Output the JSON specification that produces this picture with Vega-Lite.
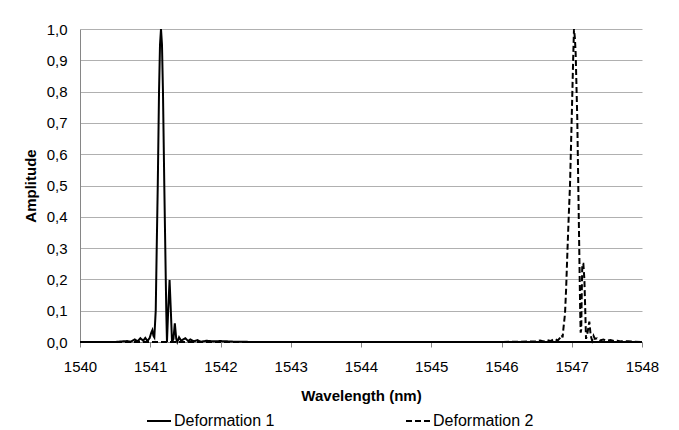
{
  "$schema": "https://vega.github.io/schema/vega-lite/v6.json",
  "autosize": "none",
  "width": 562,
  "height": 313,
  "padding": {"left": 80, "top": 29, "right": 37, "bottom": 88},
  "background": "white",
  "config": {
    "view": {"stroke": null},
    "font": "Liberation Sans"
  },
  "data": {"values": [
      {"s": "Deformation 1", "w": 1540, "a": 0}, {"s": "Deformation 1", "w": 1540.5, "a": 0}, {"s": "Deformation 1", "w": 1540.6, "a": 0.002}, {"s": "Deformation 1", "w": 1540.67, "a": 0.003},
      {"s": "Deformation 1", "w": 1540.72, "a": 0.001}, {"s": "Deformation 1", "w": 1540.78, "a": 0.008}, {"s": "Deformation 1", "w": 1540.82, "a": 0.002}, {"s": "Deformation 1", "w": 1540.86, "a": 0.012},
      {"s": "Deformation 1", "w": 1540.9, "a": 0.004}, {"s": "Deformation 1", "w": 1540.93, "a": 0.013}, {"s": "Deformation 1", "w": 1540.96, "a": 0.003}, {"s": "Deformation 1", "w": 1540.99, "a": 0.012},
      {"s": "Deformation 1", "w": 1541.015, "a": 0.03}, {"s": "Deformation 1", "w": 1541.03, "a": 0.038}, {"s": "Deformation 1", "w": 1541.045, "a": 0.02}, {"s": "Deformation 1", "w": 1541.058, "a": 0.015},
      {"s": "Deformation 1", "w": 1541.078, "a": 0.1}, {"s": "Deformation 1", "w": 1541.092, "a": 0.3}, {"s": "Deformation 1", "w": 1541.107, "a": 0.5}, {"s": "Deformation 1", "w": 1541.125, "a": 0.8},
      {"s": "Deformation 1", "w": 1541.139, "a": 0.95}, {"s": "Deformation 1", "w": 1541.153, "a": 1.0}, {"s": "Deformation 1", "w": 1541.167, "a": 0.95}, {"s": "Deformation 1", "w": 1541.181, "a": 0.8},
      {"s": "Deformation 1", "w": 1541.2, "a": 0.5}, {"s": "Deformation 1", "w": 1541.214, "a": 0.3}, {"s": "Deformation 1", "w": 1541.228, "a": 0.1}, {"s": "Deformation 1", "w": 1541.238, "a": 0.0},
      {"s": "Deformation 1", "w": 1541.255, "a": 0.1}, {"s": "Deformation 1", "w": 1541.275, "a": 0.198}, {"s": "Deformation 1", "w": 1541.293, "a": 0.1}, {"s": "Deformation 1", "w": 1541.31, "a": 0.0},
      {"s": "Deformation 1", "w": 1541.33, "a": 0.01}, {"s": "Deformation 1", "w": 1541.35, "a": 0.06}, {"s": "Deformation 1", "w": 1541.37, "a": 0.01}, {"s": "Deformation 1", "w": 1541.385, "a": 0.0},
      {"s": "Deformation 1", "w": 1541.41, "a": 0.015}, {"s": "Deformation 1", "w": 1541.44, "a": 0.004}, {"s": "Deformation 1", "w": 1541.5, "a": 0.012}, {"s": "Deformation 1", "w": 1541.54, "a": 0.003},
      {"s": "Deformation 1", "w": 1541.57, "a": 0.008}, {"s": "Deformation 1", "w": 1541.62, "a": 0.002}, {"s": "Deformation 1", "w": 1541.67, "a": 0.006}, {"s": "Deformation 1", "w": 1541.72, "a": 0.001},
      {"s": "Deformation 1", "w": 1541.8, "a": 0.004}, {"s": "Deformation 1", "w": 1541.9, "a": 0.002}, {"s": "Deformation 1", "w": 1542.0, "a": 0.003}, {"s": "Deformation 1", "w": 1542.2, "a": 0.001},
      {"s": "Deformation 1", "w": 1542.5, "a": 0}, {"s": "Deformation 1", "w": 1548, "a": 0},
      {"s": "Deformation 2", "w": 1540, "a": 0}, {"s": "Deformation 2", "w": 1546.0, "a": 0}, {"s": "Deformation 2", "w": 1546.5, "a": 0.002}, {"s": "Deformation 2", "w": 1546.55, "a": 0.005},
      {"s": "Deformation 2", "w": 1546.6, "a": 0.002}, {"s": "Deformation 2", "w": 1546.65, "a": 0.006}, {"s": "Deformation 2", "w": 1546.7, "a": 0.003}, {"s": "Deformation 2", "w": 1546.75, "a": 0.01},
      {"s": "Deformation 2", "w": 1546.8, "a": 0.005}, {"s": "Deformation 2", "w": 1546.83, "a": 0.012}, {"s": "Deformation 2", "w": 1546.857, "a": 0.022}, {"s": "Deformation 2", "w": 1546.87, "a": 0.015},
      {"s": "Deformation 2", "w": 1546.88, "a": 0.04}, {"s": "Deformation 2", "w": 1546.904, "a": 0.09}, {"s": "Deformation 2", "w": 1546.92, "a": 0.17}, {"s": "Deformation 2", "w": 1546.937, "a": 0.28},
      {"s": "Deformation 2", "w": 1546.955, "a": 0.39}, {"s": "Deformation 2", "w": 1546.975, "a": 0.5}, {"s": "Deformation 2", "w": 1546.999, "a": 0.71}, {"s": "Deformation 2", "w": 1547.022, "a": 0.92},
      {"s": "Deformation 2", "w": 1547.032, "a": 1.0}, {"s": "Deformation 2", "w": 1547.045, "a": 0.97}, {"s": "Deformation 2", "w": 1547.056, "a": 0.92}, {"s": "Deformation 2", "w": 1547.079, "a": 0.71},
      {"s": "Deformation 2", "w": 1547.093, "a": 0.5}, {"s": "Deformation 2", "w": 1547.108, "a": 0.28}, {"s": "Deformation 2", "w": 1547.12, "a": 0.1}, {"s": "Deformation 2", "w": 1547.127, "a": 0.03},
      {"s": "Deformation 2", "w": 1547.135, "a": 0.04}, {"s": "Deformation 2", "w": 1547.142, "a": 0.15}, {"s": "Deformation 2", "w": 1547.15, "a": 0.25}, {"s": "Deformation 2", "w": 1547.165, "a": 0.25},
      {"s": "Deformation 2", "w": 1547.18, "a": 0.2}, {"s": "Deformation 2", "w": 1547.19, "a": 0.12}, {"s": "Deformation 2", "w": 1547.203, "a": 0.01}, {"s": "Deformation 2", "w": 1547.225, "a": 0.03},
      {"s": "Deformation 2", "w": 1547.25, "a": 0.065}, {"s": "Deformation 2", "w": 1547.27, "a": 0.02}, {"s": "Deformation 2", "w": 1547.29, "a": 0.005}, {"s": "Deformation 2", "w": 1547.31, "a": 0.02},
      {"s": "Deformation 2", "w": 1547.33, "a": 0.01}, {"s": "Deformation 2", "w": 1547.36, "a": 0.012}, {"s": "Deformation 2", "w": 1547.4, "a": 0.005}, {"s": "Deformation 2", "w": 1547.45, "a": 0.008},
      {"s": "Deformation 2", "w": 1547.5, "a": 0.004}, {"s": "Deformation 2", "w": 1547.55, "a": 0.006}, {"s": "Deformation 2", "w": 1547.6, "a": 0.003}, {"s": "Deformation 2", "w": 1547.65, "a": 0.004},
      {"s": "Deformation 2", "w": 1547.7, "a": 0.002}, {"s": "Deformation 2", "w": 1547.8, "a": 0.002}, {"s": "Deformation 2", "w": 1548, "a": 0}
  ]},
  "mark": {"type": "line", "color": "black", "strokeWidth": 2, "interpolate": "linear"},
  "encoding": {
    "x": {
      "field": "w", "type": "quantitative",
      "scale": {"domain": [1540, 1548], "nice": false, "zero": false},
      "axis": {
        "title": "Wavelength (nm)",
        "values": [1540, 1541, 1542, 1543, 1544, 1545, 1546, 1547, 1548],
        "format": "d",
        "grid": false,
        "domainColor": "#868686",
        "tickColor": "#868686",
        "tickSize": 5,
        "labelFontSize": 15,
        "labelColor": "#000000",
        "labelPadding": 12,
        "labelFlush": false,
        "titleFontSize": 15,
        "titleFontWeight": "bold",
        "titleColor": "#000000",
        "titlePadding": 14
      }
    },
    "y": {
      "field": "a", "type": "quantitative",
      "scale": {"domain": [0, 1], "nice": false},
      "axis": {
        "title": "Amplitude",
        "values": [0, 0.1, 0.2, 0.3, 0.4, 0.5, 0.6, 0.7, 0.8, 0.9, 1.0],
        "labelExpr": "replace(format(datum.value, '.1f'), '.', ',')",
        "grid": true,
        "gridColor": "#b0b0b0",
        "gridWidth": 1,
        "domainColor": "#868686",
        "ticks": false,
        "labelFontSize": 15,
        "labelColor": "#000000",
        "labelPadding": 13,
        "titleFontSize": 15,
        "titleFontWeight": "bold",
        "titleColor": "#000000",
        "titlePadding": 8
      }
    },
    "strokeDash": {
      "field": "s", "type": "nominal",
      "scale": {"domain": ["Deformation 1", "Deformation 2"], "range": [[1, 0], [6, 3]]},
      "legend": {
        "title": null,
        "orient": "none",
        "legendX": 66,
        "legendY": 379,
        "direction": "horizontal",
        "symbolType": "stroke",
        "symbolSize": 576,
        "symbolStrokeColor": "black",
        "symbolStrokeWidth": 2,
        "labelFontSize": 16,
        "labelColor": "#000000",
        "labelOffset": 2,
        "columnPadding": 127
      }
    }
  }
}
